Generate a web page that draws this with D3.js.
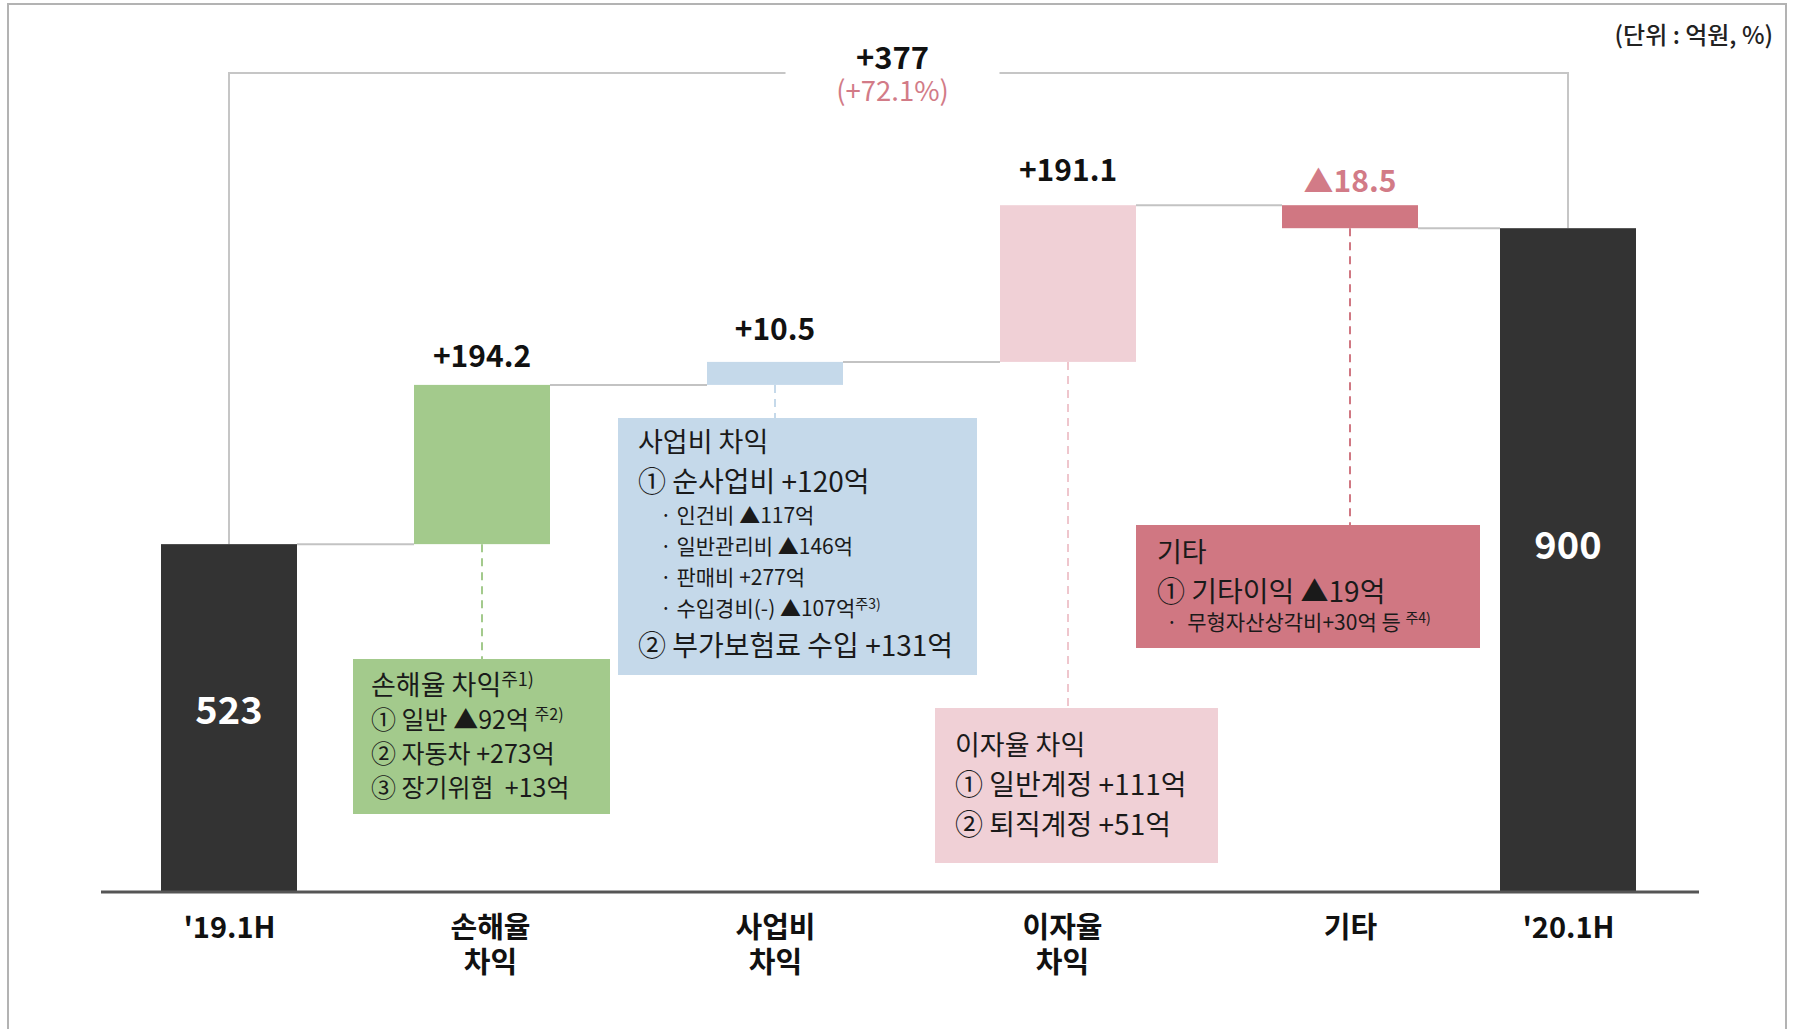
<!DOCTYPE html>
<html>
<head>
<meta charset="utf-8">
<script src="https://cdn.jsdelivr.net/npm/d3@7"></script>
<style>
  body { margin: 0; background: #fff; }
  svg text { font-family: "Noto Sans CJK KR", "Noto Sans", sans-serif; }
</style>
</head>
<body>
<svg id="chart"></svg>
<script>
// ---- data ----
const categories = ["'19.1H", "손해율 차익", "사업비 차익", "이자율 차익", "기타", "'20.1H"];
const tickLines = [["'19.1H"], ["손해율", "차익"], ["사업비", "차익"], ["이자율", "차익"], ["기타"], ["'20.1H"]];
const kinds = ["total", "delta", "delta", "delta", "delta", "total"];
const values = [523, 194.2, 10.5, 191.1, -18.5, 900];
const valueLabels = ["523", "+194.2", "+10.5", "+191.1", "▲18.5", "900"];
const totalChange = "+377";
const totalRate = "(+72.1%)";
const unitNote = "(단위 : 억원, %)";

// note boxes: [text, superscript]
const lossNotes = [["손해율 차익", "주1)"], ["① 일반 ▲92억 ", "주2)"], ["② 자동차 +273억", ""], ["③ 장기위험  +13억", ""]];
const expenseNotes = [["사업비 차익", ""], ["① 순사업비 +120억", ""], ["· 인건비 ▲117억", ""], ["· 일반관리비 ▲146억", ""],
  ["· 판매비 +277억", ""], ["· 수입경비(-) ▲107억", "주3)"], ["② 부가보험료 수입 +131억", ""]];
const interestNotes = [["이자율 차익", ""], ["① 일반계정 +111억", ""], ["② 퇴직계정 +51억", ""]];
const otherNotes = [["기타", ""], ["① 기타이익 ▲19억", ""], ["·  무형자산상각비+30억 등 ", "주4)"]];

// ---- layout / style ----
const width = 1795, height = 1029;
const barWidth = 136;
const minBarPx = 23;
const baseY = 891;
const labelGaps = [0, 18, 22, 24, 13, 0];
const tickShift = [0, 8, 0, -6, 0, 0];

const barColors = ["#333333", "#a3ca8c", "#c5d9ea", "#f0d0d6", "#d07782", "#333333"];
const dashColors = [null, "#a3ca8c", "#c5d9ea", "#efc6cd", "#d07782", null];
const pinkText = "#d27b87";

const noteBoxes = [
  null,
  { notes: lossNotes, dx: -129, top: 659, w: 257, h: 155, padTop: 36, padLeft: 18, headSize: 27, itemSize: 25, itemStep: 34 },
  { notes: expenseNotes, dx: -157, top: 418, w: 359, h: 257, padTop: 34, padLeft: 20, headSize: 27, itemSize: 28, itemStep: 40, subSize: 21, subStep: 31, subIndent: 22 },
  { notes: interestNotes, dx: -133, top: 708, w: 283, h: 155, padTop: 47, padLeft: 20, headSize: 27, itemSize: 28, itemStep: 40 },
  { notes: otherNotes, dx: -214, top: 525, w: 344, h: 123, padTop: 37, padLeft: 21, headSize: 27, itemSize: 28, itemStep: 40, subSize: 21, subStep: 28, subIndent: 9 },
  null
];

const svg = d3.select('#chart')
  .attr('width', width)
  .attr('height', height);

const x = d3.scaleOrdinal()
  .domain(categories)
  .range([229, 482, 775, 1068, 1350, 1568]);

const y = d3.scaleLinear()
  .domain([100, 1000])
  .range([baseY, 153]);

// running waterfall levels (small steps get a minimum visible height)
let level = y(values[0]);
const bars = values.map((v, i) => {
  let top, bottom;
  if (kinds[i] === 'total') {
    top = i === 0 ? y(v) : level;
    bottom = y(y.domain()[0]);
    level = top;
  } else {
    const h = Math.max(Math.abs(y(v) - y(0)), minBarPx);
    if (v >= 0) { bottom = level; top = level - h; level = top; }
    else { top = level; bottom = level + h; level = bottom; }
  }
  return { cat: categories[i], kind: kinds[i], value: v, label: valueLabels[i], top, bottom, level, i };
});

// frame
svg.append('path')
  .attr('d', `M8,${height} V4 H1786 V${height}`)
  .attr('fill', 'none')
  .attr('stroke', '#b3b3b3')
  .attr('stroke-width', 2);

svg.append('text')
  .attr('x', 1773).attr('y', 44)
  .attr('text-anchor', 'end')
  .attr('font-size', 24)
  .attr('font-weight', 500)
  .attr('fill', '#222')
  .text(unitNote);

// top bracket for total change
const first = bars[0], last = bars[bars.length - 1];
const bracketY = 73;
const midX = (x(first.cat) + x(last.cat)) / 2 - 6;
svg.append('path')
  .attr('d', `M${x(first.cat)},${first.top} V${bracketY} H${midX - 107} M${midX + 107},${bracketY} H${x(last.cat)} V${last.top}`)
  .attr('fill', 'none')
  .attr('stroke', '#c6c6c6')
  .attr('stroke-width', 2);

svg.append('text')
  .attr('x', midX).attr('y', 69)
  .attr('text-anchor', 'middle')
  .attr('font-size', 31)
  .attr('font-weight', 700)
  .attr('fill', '#111')
  .text(totalChange);

svg.append('text')
  .attr('x', midX).attr('y', 101)
  .attr('text-anchor', 'middle')
  .attr('font-size', 27.5)
  .attr('fill', pinkText)
  .text(totalRate);

// connectors
svg.selectAll('.connector')
  .data(bars.slice(0, -1))
  .enter()
  .append('line')
  .attr('class', 'connector')
  .attr('x1', d => x(d.cat) + barWidth / 2)
  .attr('x2', d => x(categories[d.i + 1]) - barWidth / 2)
  .attr('y1', d => d.level)
  .attr('y2', d => d.level)
  .attr('stroke', '#c3c3c3')
  .attr('stroke-width', 2);

// dashed leaders to note boxes
svg.selectAll('.leader')
  .data(bars.filter(d => noteBoxes[d.i]))
  .enter()
  .append('line')
  .attr('class', 'leader')
  .attr('x1', d => x(d.cat))
  .attr('x2', d => x(d.cat))
  .attr('y1', d => d.bottom)
  .attr('y2', d => noteBoxes[d.i].top)
  .attr('stroke', d => dashColors[d.i])
  .attr('stroke-width', 2)
  .attr('stroke-dasharray', '8,6');

// bars
svg.selectAll('.bar')
  .data(bars)
  .enter()
  .append('rect')
  .attr('class', 'bar')
  .attr('x', d => x(d.cat) - barWidth / 2)
  .attr('y', d => d.top)
  .attr('width', barWidth)
  .attr('height', d => d.bottom - d.top)
  .attr('fill', d => barColors[d.i]);

// value labels
svg.selectAll('.value')
  .data(bars)
  .enter()
  .append('text')
  .attr('class', 'value')
  .attr('x', d => x(d.cat))
  .attr('y', d => d.kind === 'total' ? d.top + (d.bottom - d.top) * 0.48 + 13 : d.top - labelGaps[d.i])
  .attr('text-anchor', 'middle')
  .attr('font-size', d => d.kind === 'total' ? 38 : 30)
  .attr('font-weight', 700)
  .attr('fill', d => d.kind === 'total' ? '#fff' : (d.value < 0 ? pinkText : '#111'))
  .text(d => d.label);

// note boxes
bars.filter(d => noteBoxes[d.i]).forEach(d => {
  const box = noteBoxes[d.i];
  const left = x(d.cat) + box.dx;
  const g = svg.append('g');
  g.append('rect')
    .attr('x', left).attr('y', box.top)
    .attr('width', box.w).attr('height', box.h)
    .attr('fill', barColors[d.i]);

  let baseline = box.top + box.padTop;
  box.notes.forEach(([t, sup], k) => {
    const isSub = t.startsWith('·');
    const isHead = k === 0;
    if (k > 0) baseline += isSub ? box.subStep : box.itemStep;
    const size = isHead ? box.headSize : (isSub ? box.subSize : box.itemSize);
    const txt = g.append('text')
      .attr('x', left + box.padLeft + (isSub ? box.subIndent : 0))
      .attr('y', baseline)
      .attr('font-size', size)
      .attr('fill', '#1a1a1a')
      .attr('xml:space', 'preserve')
      .style('white-space', 'pre');
    txt.append('tspan').text(t);
    if (sup) {
      txt.append('tspan')
        .attr('font-size', Math.round(size * 0.65))
        .attr('dy', -Math.round(size * 0.34))
        .text(sup);
    }
  });
});

// x axis
svg.append('line')
  .attr('x1', 101).attr('x2', 1699)
  .attr('y1', baseY + 1).attr('y2', baseY + 1)
  .attr('stroke', '#555')
  .attr('stroke-width', 3);

const xAxis = svg.append('g')
  .attr('transform', `translate(0,${baseY})`)
  .call(d3.axisBottom(x).tickSize(0).tickFormat(''));
xAxis.select('.domain').remove();
xAxis.selectAll('.tick text').remove();
xAxis.selectAll('.tick')
  .append('text')
  .attr('text-anchor', 'middle')
  .attr('font-size', 29)
  .attr('font-weight', 700)
  .attr('fill', '#111')
  .each(function (d) {
    const k = categories.indexOf(d);
    d3.select(this).selectAll('tspan')
      .data(tickLines[k])
      .enter()
      .append('tspan')
      .attr('x', tickShift[k])
      .attr('y', (l, j) => 47 + j * 35)
      .text(l => l);
  });
</script>
</body>
</html>
